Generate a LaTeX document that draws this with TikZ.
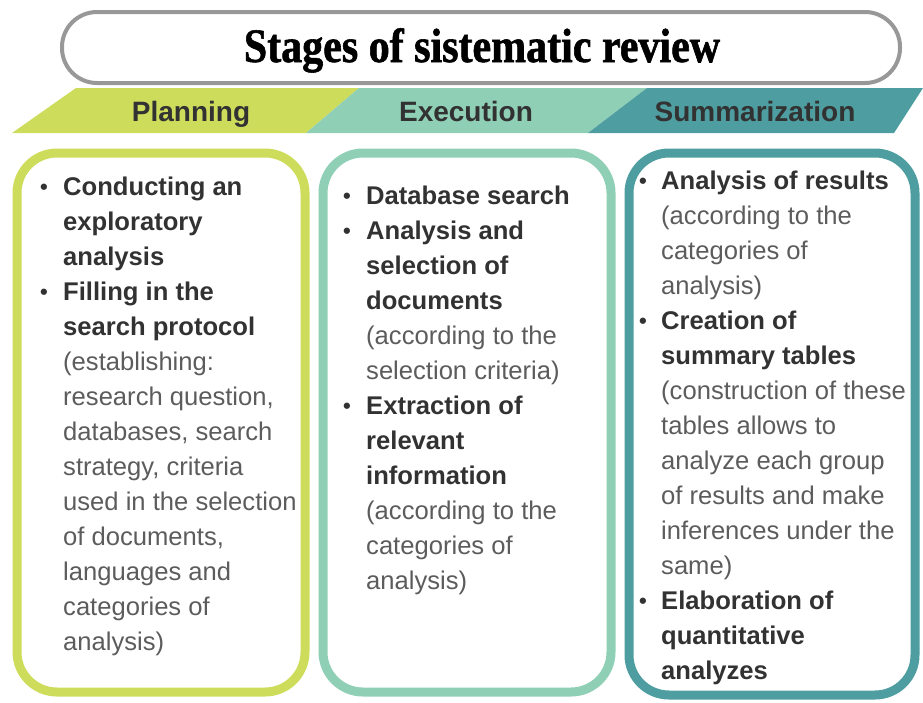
\documentclass[tikz,border=0pt]{standalone}
\usepackage{fontspec}
\setmainfont{Liberation Sans}
\newfontfamily\titlefont[FakeStretch=0.875,FakeBold=1.2]{Liberation Serif Bold}
\definecolor{plan}{RGB}{206,220,92}
\definecolor{exec}{RGB}{143,207,181}
\definecolor{summ}{RGB}{78,157,160}
\definecolor{frame}{RGB}{152,152,152}
\definecolor{dark}{RGB}{50,50,50}
\definecolor{soft}{RGB}{92,92,92}
\tikzset{
  bld/.style={font=\fontsize{25.6}{30}\selectfont\bfseries, text=dark},
  reg/.style={font=\fontsize{25.6}{30}\selectfont, text=soft},
  bul/.style={font=\fontsize{22}{26}\selectfont\bfseries, text=dark},
  head/.style={anchor=base, font=\fontsize{28}{32}\selectfont\bfseries, text=dark},
  box/.style={draw=#1, line width=9pt, rounded corners=40pt}
}
\begin{document}
\begin{tikzpicture}[x=1pt,y=-1pt,anchor=base west,inner sep=0pt]
\useasboundingbox (0,0) rectangle (923,702);
% title
\draw[frame, line width=4pt, rounded corners=35pt, fill=white] (62,12) rectangle (900,83);
\node[anchor=base, font=\titlefont\fontsize{48}{52}\selectfont, text=black] (title) at (482,62) {Stages of sistematic review};
% band
\fill[plan] (12,133) -- (76,88) -- (359,88) -- (306,133) -- cycle;
\fill[exec] (306,133) -- (359,88) -- (647,88) -- (588,133) -- cycle;
\fill[summ] (588,133) -- (647,88) -- (923,88) -- (894,133) -- cycle;
\node[head] (h1) at (191,121) {Planning};
\node[head] (h2) at (466,121) {Execution};
\node[head] (h3) at (755,121) {Summarization};
% boxes
\draw[box=plan] (17,153) rectangle (305,692);
\draw[box=exec] (323,153) rectangle (611,692);
\draw[box=summ] (629,153) rectangle (915,695);
% planning
\node[bul] (pb1) at (40,194) {\textbullet};\node[bld] (p1) at (63,195) {Conducting an};
\node[bld] (p2) at (63,230) {exploratory};
\node[bld] (p3) at (63,265) {analysis};
\node[bul] (pb2) at (40,299) {\textbullet};\node[bld] (p4) at (63,300) {Filling in the};
\node[bld] (p5) at (63,335) {search protocol};
\node[reg] (p6) at (63,370) {(establishing:};
\node[reg] (p7) at (63,405) {research question,};
\node[reg] (p8) at (63,440) {databases, search};
\node[reg] (p9) at (63,475) {strategy, criteria};
\node[reg] (p10) at (63,510) {used in the selection};
\node[reg] (p11) at (63,545) {of documents,};
\node[reg] (p12) at (63,580) {languages and};
\node[reg] (p13) at (63,615) {categories of};
\node[reg] (p14) at (63,650) {analysis)};
% execution
\node[bul] (eb1) at (343,203) {\textbullet};\node[bld] (e1) at (366,204) {Database search};
\node[bul] (eb2) at (343,238) {\textbullet};\node[bld] (e2) at (366,239) {Analysis and};
\node[bld] (e3) at (366,274) {selection of};
\node[bld] (e4) at (366,309) {documents};
\node[reg] (e5) at (366,344) {(according to the};
\node[reg] (e6) at (366,379) {selection criteria)};
\node[bul] (eb3) at (343,413) {\textbullet};\node[bld] (e7) at (366,414) {Extraction of};
\node[bld] (e8) at (366,449) {relevant};
\node[bld] (e9) at (366,484) {information};
\node[reg] (e10) at (366,519) {(according to the};
\node[reg] (e11) at (366,554) {categories of};
\node[reg] (e12) at (366,589) {analysis)};
% summarization
\node[bul] (sb1) at (639,188) {\textbullet};\node[bld] (s1) at (661,189) {Analysis of results};
\node[reg] (s2) at (661,224) {(according to the};
\node[reg] (s3) at (661,259) {categories of};
\node[reg] (s4) at (661,294) {analysis)};
\node[bul] (sb2) at (639,328) {\textbullet};\node[bld] (s5) at (661,329) {Creation of};
\node[bld] (s6) at (661,364) {summary tables};
\node[reg] (s7) at (661,399) {(construction of these};
\node[reg] (s8) at (661,434) {tables allows to};
\node[reg] (s9) at (661,469) {analyze each group};
\node[reg] (s10) at (661,504) {of results and make};
\node[reg] (s11) at (661,539) {inferences under the};
\node[reg] (s12) at (661,574) {same)};
\node[bul] (sb3) at (639,608) {\textbullet};\node[bld] (s13) at (661,609) {Elaboration of};
\node[bld] (s14) at (661,644) {quantitative};
\node[bld] (s15) at (661,679) {analyzes};
\end{tikzpicture}
\end{document}
